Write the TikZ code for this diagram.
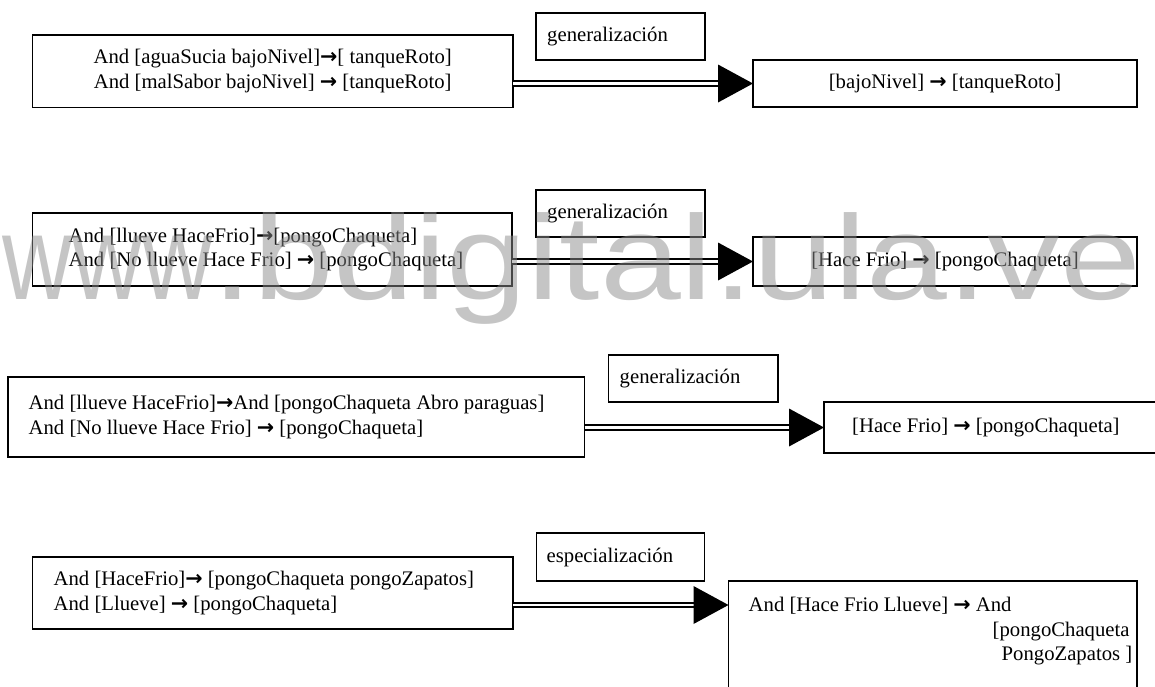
\documentclass[tikz,border=0pt]{standalone}
\usepackage{fontspec}
\usepackage{graphicx}
\setmainfont{Liberation Serif}
\newfontfamily\wmfont{Liberation Sans}
\newfontfamily\arrowfont{DejaVu Sans}
\newcommand{\rarrow}{{\arrowfont\bfseries →}}
\begin{document}
\begin{tikzpicture}[x=1pt,y=-1pt,
  box/.style={draw, line width=1.6pt, anchor=north west, inner sep=0pt, outer sep=0pt},
  txt/.style={inner sep=0pt, font=\fontsize{20.7}{24.5}\selectfont},
  dbl/.style={double=white, double distance=2.4pt, line width=2.1pt},
  wm/.style={inner sep=0pt, text=black!45, opacity=0.5, font=\wmfont\fontsize{120}{120}\selectfont}]
\useasboundingbox (0,0) rectangle (1155,686);
\clip (0,0) rectangle (1155,686);

% ---------- row 1
\node[box, minimum width=480.5pt, minimum height=72.5pt] (L1) at (32.5,35) {};
\node[txt, align=center] (L1t) at (L1.center) {And [aguaSucia bajoNivel]\rarrow[ tanqueRoto]\\And [malSabor bajoNivel] \rarrow{} [tanqueRoto]};
\node[box, minimum width=169pt, minimum height=47pt] (G1) at (536,13) {};
\node[txt, anchor=west] (G1t) at ([xshift=11pt]G1.west) {generalización};
\node[box, minimum width=384pt, minimum height=47pt] (R1) at (753,60) {};
\node[txt] (R1t) at (R1.center) {[bajoNivel] \rarrow{} [tanqueRoto]};
\draw[dbl] (L1.east |- R1.west) -- ([xshift=-34pt]R1.west);
\fill ([xshift=-35pt,yshift=19pt]R1.west) -- (R1.west) -- ([xshift=-35pt,yshift=-19pt]R1.west) -- cycle;

% ---------- row 2
\node[box, minimum width=479.5pt, minimum height=73pt] (L2) at (32.5,213) {};
\node[txt, anchor=west, align=left] (L2t) at ([xshift=36pt]L2.west) {And [llueve HaceFrio]\rarrow[pongoChaqueta]\\And [No llueve Hace Frio] \rarrow{} [pongoChaqueta]};
\node[box, minimum width=169pt, minimum height=47pt] (G2) at (536,190) {};
\node[txt, anchor=west] (G2t) at ([xshift=11pt]G2.west) {generalización};
\node[box, minimum width=384pt, minimum height=49pt] (R2) at (753,237) {};
\node[txt] (R2t) at (R2.center) {[Hace Frio] \rarrow{} [pongoChaqueta]};
\draw[dbl] (L2.east |- R2.west) -- ([xshift=-34pt]R2.west);
\fill ([xshift=-35pt,yshift=19pt]R2.west) -- (R2.west) -- ([xshift=-35pt,yshift=-19pt]R2.west) -- cycle;

% ---------- row 3
\node[box, minimum width=576.5pt, minimum height=80pt] (L3) at (8,377) {};
\node[txt, anchor=west, align=left] (L3t) at ([xshift=20.5pt]L3.west) {And [llueve HaceFrio]\rarrow And [pongoChaqueta Abro paraguas]\\And [No llueve Hace Frio] \rarrow{} [pongoChaqueta]};
\node[box, minimum width=169.5pt, minimum height=47pt] (G3) at (608.5,355) {};
\node[txt, anchor=west] (G3t) at ([xshift=11pt]G3.west) {generalización};
\node[box, minimum width=340pt, minimum height=51pt] (R3) at (824,402) {};
\node[txt, anchor=west] (R3t) at ([xshift=28pt]R3.west) {[Hace Frio] \rarrow{} [pongoChaqueta]};
\draw[dbl] (L3.east |- R3.west) -- ([xshift=-34pt]R3.west);
\fill ([xshift=-35pt,yshift=19pt]R3.west) -- (R3.west) -- ([xshift=-35pt,yshift=-19pt]R3.west) -- cycle;

% ---------- row 4
\node[box, minimum width=480.5pt, minimum height=72pt] (L4) at (32.5,557) {};
\node[txt, anchor=west, align=left] (L4t) at ([xshift=21pt]L4.west) {And [HaceFrio]\rarrow{} [pongoChaqueta pongoZapatos]\\And [Llueve] \rarrow{} [pongoChaqueta]};
\node[box, minimum width=168pt, minimum height=48pt] (G4) at (536.5,533) {};
\node[txt, anchor=west] (G4t) at ([xshift=10pt]G4.west) {especialización};
\node[box, minimum width=408.5pt, minimum height=130pt] (R4) at (728.5,581) {};
\node[txt, anchor=base west] (R4a) at ([xshift=20pt,yshift=-30.5pt]R4.north west) {And [Hace Frio Llueve] \rarrow{} And};
\node[txt, anchor=base west] (R4b) at ([xshift=264pt,yshift=-55pt]R4.north west) {[pongoChaqueta};
\node[txt, anchor=base west] (R4c) at ([xshift=273pt,yshift=-79.5pt]R4.north west) {PongoZapatos ]};
\coordinate (T4) at ([yshift=-24pt]R4.north west);
\draw[dbl] (L4.east |- T4) -- ([xshift=-34pt]T4);
\fill ([xshift=-35pt,yshift=19pt]T4) -- (T4) -- ([xshift=-35pt,yshift=-19pt]T4) -- cycle;

% ---------- watermark
\node[wm, anchor=base west] (wm) at (2,299) {\scalebox{0.81}[1]{www}\scalebox{1.21}[1]{.bdigital.ula.ve}};
\end{tikzpicture}
\end{document}
